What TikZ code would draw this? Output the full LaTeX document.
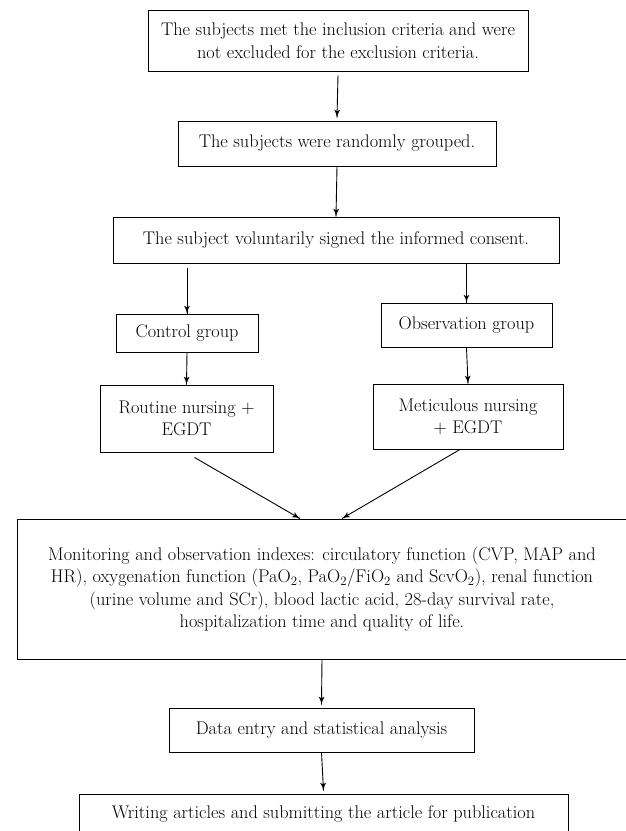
\documentclass[tikz,border=0pt]{standalone}
\usepackage{tikz}
\usetikzlibrary{arrows}
\usetikzlibrary{decorations.markings}
\tikzset{arr/.style = {decoration={markings,
                                  mark=at position 0.999
                                  with {\arrow[scale=1.4]{latex'}}},
                      postaction={decorate}}}
\tikzset{box/.style = {draw, inner sep=0, align=center,
                       font=\fontsize{18.3}{22.5}\selectfont}}
\tikzset{every picture/.style={
    every path/.style={line width=0.9pt},
}}

\begin{document}
\begin{tikzpicture}[x=1pt, y=-1pt]
      \useasboundingbox (0,0) rectangle (625,831);
      \node[box, minimum width=380, minimum height=61] (incl) at (338,40.5)
        {The subjects met the inclusion criteria and were\\
         not excluded for the exclusion criteria.};
      \node[box, minimum width=318, minimum height=45] (rand) at (337,143.5)
        {The subjects were randomly grouped.};
      \node[box, minimum width=446, minimum height=46] (consent) at (336,240)
        {The subject voluntarily signed the informed consent.};
      \node[box, minimum width=142, minimum height=38] (ctrl) at (187,333)
        {Control group};
      \node[box, minimum width=171, minimum height=44] (obs) at (466.5,325)
        {Observation group};
      \node[box, minimum width=173, minimum height=67] (routine) at (186.5,418.5)
        {Routine nursing +\\ EGDT};
      \node[box, minimum width=190, minimum height=65] (metic) at (468,416.5)
        {Meticulous nursing\\ + EGDT};
      \node[box, minimum width=610, minimum height=140] (mon) at (322,589)
        {Monitoring and observation indexes: circulatory function (CVP, MAP and\\
         HR), oxygenation function (PaO\textsubscript{2}, PaO\textsubscript{2}/FiO\textsubscript{2} and ScvO\textsubscript{2}), renal function\\
         (urine volume and SCr), blood lactic acid, 28-day survival rate,\\
         hospitalization time and quality of life.};
      \node[box, minimum width=305, minimum height=44] (data) at (321.5,730)
        {Data entry and statistical analysis};
      \node[box, minimum width=489, minimum height=40] (write) at (323.5,814)
        {Writing articles and submitting the article for publication};
      \draw[arr] ([yshift=-4pt]incl.south) -- ([yshift=3pt]rand.north);
      \draw[arr] (rand.south) -- (consent.north);
      \draw[arr] ([yshift=-5pt]consent.south -| ctrl.north) -- (ctrl.north);
      \draw[arr] (consent.south -| obs.north) -- (obs.north);
      \draw[arr] (ctrl.south) -- (routine.north);
      \draw[arr] (obs.south) -- (metic.north);
      \draw[arr] ([xshift=8pt,yshift=-5pt]routine.south) -- ([xshift=-22pt]mon.north);
      \draw[arr] ([xshift=-8pt]metic.south) -- ([xshift=20pt]mon.north);
      \draw[arr] (mon.south) -- ([yshift=3pt]data.north);
      \draw[arr] (data.south) -- ([yshift=3pt]write.north);
    \end{tikzpicture}
\end{document}
